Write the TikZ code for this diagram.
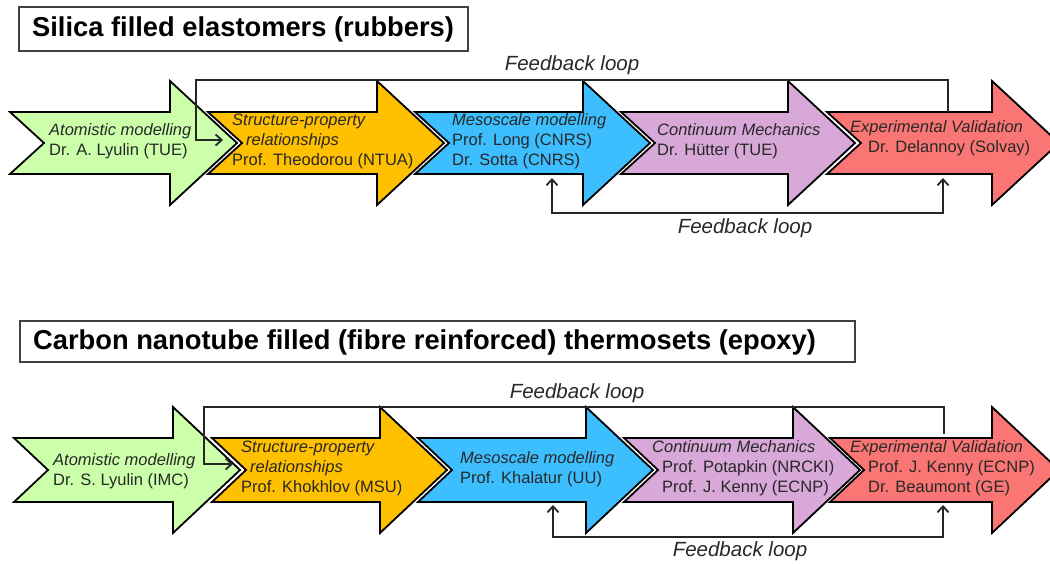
\documentclass[tikz,border=0pt]{standalone}
\usepackage{fontspec}
\setmainfont{Liberation Sans}
\usetikzlibrary{arrows.meta}
\definecolor{cgreen}{RGB}{204,255,170}
\definecolor{corange}{RGB}{255,192,0}
\definecolor{cblue}{RGB}{60,190,255}
\definecolor{cpurple}{RGB}{216,168,216}
\definecolor{cred}{RGB}{250,118,116}
\definecolor{txt}{RGB}{40,40,40}
\tikzset{
  arrowbody/.style={draw=black, line width=1.8pt, line join=miter},
  titletext/.style={font=\fontsize{27.3}{30}\selectfont\bfseries, anchor=west, inner sep=0pt},
  body/.style={font=\fontsize{16.5}{20}\selectfont, text=txt, align=left, anchor=west, inner sep=0pt},
  looplabel/.style={font=\fontsize{20.5}{22}\selectfont\itshape, text=txt, inner sep=0pt},
  loopline/.style={draw=black!85, line width=1.8pt},
  looptip/.style={-{Straight Barb[length=6pt,width=11pt]}},
  looptips/.style={{Straight Barb[length=6pt,width=11pt]}-{Straight Barb[length=6pt,width=11pt]}},
}
\newcommand{\flowarrow}[7]{%
  \draw[arrowbody, fill=#2] (#3,{#5-#6}) -- (#4,{#5-#6}) -- (#4,{#5-#7}) -- ({#4+67},#5)
    -- (#4,{#5+#7}) -- (#4,{#5+#6}) -- (#3,{#5+#6}) -- ({#3+34},#5) -- cycle;
  \coordinate (#1) at ({(#3+#4)/2},#5);}
\begin{document}
\begin{tikzpicture}[x=1pt,y=-1pt]
\useasboundingbox (0,0) rectangle (1050,563);
\clip (0,0) rectangle (1050,563);
% ---------- Row 1 ----------
\draw[draw=black!75, line width=1.3pt] (19,7) rectangle (468,51);
\node[titletext] (t1) at (32,29) {Silica filled elastomers (rubbers)};
\flowarrow{a1}{cgreen}{10}{170}{143}{31}{62}
\flowarrow{b1}{corange}{208}{377}{143}{31}{62}
\flowarrow{c1}{cblue}{415}{583}{143}{31}{62}
\flowarrow{d1}{cpurple}{621}{788}{143}{31}{62}
\flowarrow{e1}{cred}{827}{992}{143}{31}{62}
\node[body] (ta1) at (49,141) {\textit{Atomistic modelling}\\Dr. A. Lyulin (TUE)};
\node[body] (tb1) at (232,141) {\textit{Structure-property}\\\hspace*{14pt}\textit{relationships}\\Prof. Theodorou (NTUA)};
\node[body] (tc1) at (452,141) {\textit{Mesoscale modelling}\\Prof. Long (CNRS)\\Dr. Sotta (CNRS)};
\node[body] (td1) at (657,141) {\textit{Continuum Mechanics}\\Dr. H\"utter (TUE)};
\node[body] (te1) at (850,138) {\textit{Experimental Validation}\\\hspace*{18pt}Dr. Delannoy (Solvay)};
% top feedback loop row 1
\coordinate (p1a) at (948,112);
\coordinate (p1b) at (948,80);
\coordinate (p1c) at (196,80);
\coordinate (p1d) at (196,140);
\coordinate (p1e) at (223,140);
\draw[loopline, looptip] (p1a) -- (p1b) -- (p1c) -- (p1d) -- (p1e);
\node[looplabel] (l1) at (572,65) {Feedback loop};
% bottom feedback loop row 1
\coordinate (q1a) at (552,178);
\coordinate (q1b) at (552,213);
\coordinate (q1c) at (943,213);
\coordinate (q1d) at (943,178);
\draw[loopline, looptips] (q1a) -- (q1b) -- (q1c) -- (q1d);
\node[looplabel] (l2) at (745,228) {Feedback loop};
% ---------- Row 2 ----------
\draw[draw=black!75, line width=1.3pt] (20,321) rectangle (855,362);
\node[titletext] (t2) at (33,342) {Carbon nanotube filled (fibre reinforced) thermosets (epoxy)};
\flowarrow{a2}{cgreen}{14}{173}{470}{32}{63}
\flowarrow{b2}{corange}{212}{380}{470}{32}{63}
\flowarrow{c2}{cblue}{418}{586}{470}{32}{63}
\flowarrow{d2}{cpurple}{624}{793}{470}{32}{63}
\flowarrow{e2}{cred}{830}{992}{470}{32}{63}
\node[body] (ta2) at (53,471) {\textit{Atomistic modelling}\\Dr. S. Lyulin (IMC)};
\node[body] (tb2) at (241,468) {\textit{Structure-property}\\\hspace*{9pt}\textit{relationships}\\Prof. Khokhlov (MSU)};
\node[body] (tc2) at (460,469) {\textit{Mesoscale modelling}\\Prof. Khalatur (UU)};
\node[body] (td2) at (652,468) {\textit{Continuum Mechanics}\\\hspace*{10pt}Prof. Potapkin (NRCKI)\\\hspace*{10pt}Prof. J. Kenny (ECNP)};
\node[body] (te2) at (850,468) {\textit{Experimental Validation}\\\hspace*{18pt}Prof. J. Kenny (ECNP)\\\hspace*{18pt}Dr. Beaumont (GE)};
% top feedback loop row 2
\coordinate (p2a) at (944,434);
\coordinate (p2b) at (944,407);
\coordinate (p2c) at (204,407);
\coordinate (p2d) at (204,464);
\coordinate (p2e) at (233,464);
\draw[loopline, looptip] (p2a) -- (p2b) -- (p2c) -- (p2d) -- (p2e);
\node[looplabel] (l3) at (577,393) {Feedback loop};
% bottom feedback loop row 2
\coordinate (q2a) at (553,505);
\coordinate (q2b) at (553,537);
\coordinate (q2c) at (943,537);
\coordinate (q2d) at (943,505);
\draw[loopline, looptips] (q2a) -- (q2b) -- (q2c) -- (q2d);
\node[looplabel] (l4) at (740,551) {Feedback loop};
\end{tikzpicture}
\end{document}
